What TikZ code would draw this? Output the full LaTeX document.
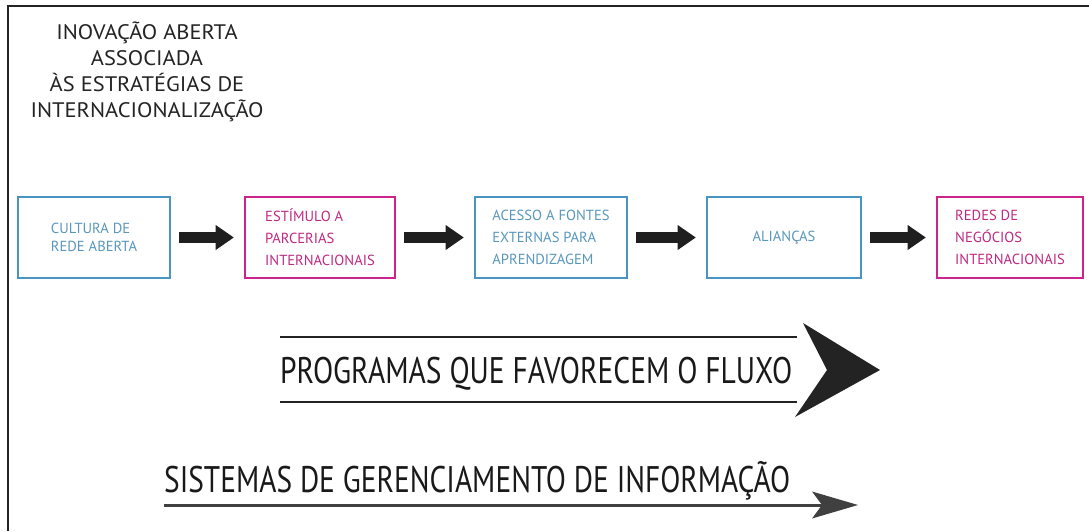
\documentclass[tikz,border=0pt]{standalone}
\usepackage{graphicx}
\usepackage{fontspec}
\setmainfont{PT Sans}
\usetikzlibrary{arrows.meta}
\definecolor{bblue}{RGB}{74,148,196}
\definecolor{tblue}{RGB}{88,150,188}
\definecolor{bpink}{RGB}{204,36,140}
\definecolor{tpink}{RGB}{192,40,128}
\definecolor{ink}{RGB}{35,35,35}
\newcommand{\ttl}[1]{\scalebox{1.07}[1]{#1}}
\begin{document}
\begin{tikzpicture}[x=1pt,y=-1pt,
  bluebox/.style={draw=bblue, line width=2.6pt, text=tblue, minimum width=152pt,
    minimum height=81pt, align=left, inner sep=0pt, font=\fontsize{14.6}{22}\selectfont},
  pinkbox/.style={bluebox, draw=bpink, text=tpink},
  flow/.style={draw=black!88, line width=11pt, -{Triangle[length=18pt,width=25pt,line width=0pt]}},
  titletext/.style={anchor=base, text=ink, inner sep=0pt, font=\fontsize{21}{26}\selectfont},
  bigtext/.style={anchor=base west, text=black!90, inner sep=0pt},
  rule/.style={draw=ink, line width=1.8pt}
]
\useasboundingbox (0,0) rectangle (1089,531);
% frame
\draw[line width=2pt, ink] (1089,6) -- (8,6) -- (8,531);

% title
\node[titletext] (t1) at (147,39) {\ttl{INOVAÇÃO ABERTA}};
\node[titletext] (t2) at (147,65) {\ttl{ASSOCIADA}};
\node[titletext] (t3) at (147,91) {\ttl{ÀS ESTRATÉGIAS DE}};
\node[titletext] (t4) at (147,117) {\ttl{INTERNACIONALIZAÇÃO}};

% boxes
\node[bluebox, font=\fontsize{14.6}{17.5}\selectfont] (b1) at (94,237.5) {CULTURA DE\\REDE ABERTA};
\node[pinkbox, minimum width=150pt] (b2) at (320,237.5) {ESTÍMULO A\\PARCERIAS\\INTERNACIONAIS};
\node[bluebox] (b3) at (551,237.5) {ACESSO A FONTES\\EXTERNAS PARA\\APRENDIZAGEM};
\node[bluebox, minimum width=154pt, align=center] (b4) at (784,237.5) {ALIANÇAS};
\node[pinkbox, minimum width=146pt] (b5) at (1010,237.5) {REDES DE\\NEGÓCIOS\\INTERNACIONAIS};

% flow arrows
\draw[flow] ([xshift=8pt]b1.east) -- ([xshift=-10pt]b2.west);
\draw[flow] ([xshift=8pt]b2.east) -- ([xshift=-10pt]b3.west);
\draw[flow] ([xshift=8pt]b3.east) -- ([xshift=-10pt]b4.west);
\draw[flow] ([xshift=8pt]b4.east) -- ([xshift=-10pt]b5.west);

% programas
\coordinate (pa) at (280,337);
\coordinate (pb) at (797,337);
\coordinate (pc) at (280,402);
\coordinate (pd) at (797,402);
\draw[rule] (pa) -- (pb);
\draw[rule] (pc) -- (pd);
\node[bigtext] (prog) at (280,383) {\resizebox{512pt}{\height}{\fontsize{37}{37}\selectfont PROGRAMAS QUE FAVORECEM O FLUXO}};
\fill[ink] (803,323) -- (880,370) -- (795,417) -- (827,370) -- cycle;

% sistemas
\node[bigtext] (sist) at (164,492) {\resizebox{626pt}{\height}{\fontsize{37}{37}\selectfont SISTEMAS DE GERENCIAMENTO DE INFORMAÇÃO}};
\coordinate (sa) at (164,505);
\coordinate (sb) at (858,505);
\draw[draw=black!75, line width=3pt, -{Stealth[length=46pt,width=27pt,inset=10pt,line width=0pt]}] (sa) -- (sb);
\end{tikzpicture}
\end{document}
